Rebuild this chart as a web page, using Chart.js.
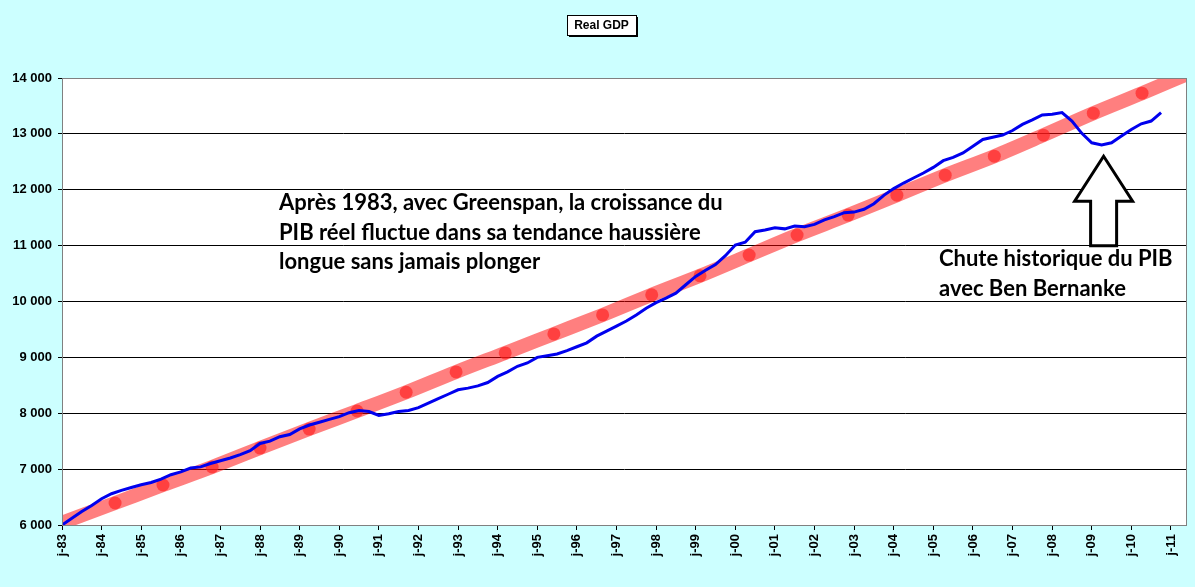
<!DOCTYPE html>
<html>
<head>
<meta charset="utf-8">
<script src="https://cdn.jsdelivr.net/npm/chart.js@4"></script>
<style>
  html, body { margin: 0; padding: 0; background: #ccffff; }
  #wrap { width: 1195px; height: 587px; }
</style>
</head>
<body>
<div id="wrap"><canvas id="gdp"></canvas></div>
<script>
// quarterly real GDP (billions, chained dollars), from 1983 Q1
const startYear = 1983;
const gdp = [
  6000, 6120, 6240, 6350,   6470, 6560, 6620, 6670,   6720, 6760, 6820, 6900,
  6950, 7020, 7040, 7100,   7150, 7200, 7260, 7330,   7460, 7500, 7580, 7620,
  7720, 7790, 7840, 7890,   7940, 8010, 8050, 8030,   7960, 7990, 8030, 8050,
  8100, 8180, 8260, 8340,   8420, 8450, 8490, 8550,   8660, 8740, 8840, 8900,
  9000, 9030, 9060, 9120,   9190, 9260, 9380, 9470,   9560, 9650, 9760, 9880,
  9980, 10060, 10150, 10300, 10450, 10560, 10660, 10820, 11010, 11060, 11250, 11280,
  11320, 11300, 11350, 11340, 11380, 11460, 11520, 11590, 11600, 11650, 11750, 11900,
  12020, 12120, 12210, 12300, 12400, 12520, 12580, 12660, 12780, 12900, 12940, 12980,
  13060, 13170, 13250, 13340, 13350, 13380, 13230, 13010, 12840, 12800, 12840, 12960,
  13080, 13180, 13230, 13380
];

// trend dots (year, value)
const dotYears = [1984.34, 1985.55, 1986.79, 1988.0, 1989.24, 1990.45, 1991.69, 1992.95,
  1994.19, 1995.42, 1996.65, 1997.89, 1999.11, 2000.35, 2001.56, 2002.85, 2004.08,
  2005.3, 2006.54, 2007.78, 2009.04, 2010.27];
const dotValues = [6394, 6716, 7038, 7377, 7717, 8040, 8376, 8740, 9080, 9420, 9760,
  10120, 10460, 10830, 11190, 11546, 11903, 12261, 12601, 12977, 13370, 13728];
// band ends
const bandStart = { x: 1983, y: 6040 };
const bandEnd = { x: 2011.38, y: 14060 };

const yTicks = [6000, 7000, 8000, 9000, 10000, 11000, 12000, 13000, 14000];
const xYears = [];
for (let y = 1983; y <= 2011; y++) xYears.push(y);

const textLeft = ["Après 1983, avec Greenspan, la croissance du",
  "PIB réel fluctue dans sa tendance haussière",
  "longue sans jamais plonger"];
const textRight = ["Chute historique du PIB", "avec Ben Bernanke"];
const arrowAt = { x: 2009.3, top: 12600, bottom: 11000 };

const gdpPoints = gdp.map((v, i) => ({ x: startYear + i / 4, y: v }));
const dotPoints = dotYears.map((x, i) => ({ x: x, y: dotValues[i] }));
const bandPoints = [bandStart, ...dotPoints, bandEnd];

const fmt = v => String(v).replace(/\B(?=(\d{3})+(?!\d))/g, " ");

const decor = {
  id: "decor",
  beforeDraw(chart) {
    const { ctx, chartArea: a } = chart;
    ctx.save();
    ctx.fillStyle = "#ccffff";
    ctx.fillRect(0, 0, chart.width, chart.height);
    ctx.fillStyle = "#ffffff";
    ctx.fillRect(a.left, a.top, a.right - a.left, a.bottom - a.top);
    ctx.restore();
  },
  afterDraw(chart) {
    const { ctx, chartArea: a, scales } = chart;
    ctx.save();
    // plot border
    ctx.strokeStyle = "#808080";
    ctx.lineWidth = 1;
    ctx.strokeRect(a.left + 0.5, a.top + 0.5, a.right - a.left, a.bottom - a.top);

    // title box
    ctx.font = "bold 12px Arial";
    const bx = 567, by = 15, bw = 69, bh = 20;
    ctx.fillStyle = "#000";
    ctx.fillRect(bx + 2, by + 2, bw, bh);
    ctx.fillStyle = "#fff";
    ctx.fillRect(bx, by, bw, bh);
    ctx.strokeStyle = "#000";
    ctx.strokeRect(bx + 0.5, by + 0.5, bw, bh);
    ctx.fillStyle = "#000";
    ctx.textAlign = "center";
    ctx.textBaseline = "middle";
    ctx.fillText("Real GDP", bx + bw / 2, by + bh / 2 + 1);

    // annotations
    ctx.font = "bold 22px Lato";
    ctx.textAlign = "left";
    textLeft.forEach((t, i) => ctx.fillText(t, 279, 203 + i * 29.5));
    textRight.forEach((t, i) => ctx.fillText(t, 939, 259 + i * 30));

    // arrow
    const cx = scales.x.getPixelForValue(arrowAt.x);
    const yt = scales.y.getPixelForValue(arrowAt.top);
    const yb = scales.y.getPixelForValue(arrowAt.bottom);
    const hw = 29, sw = 13, head = 45;
    ctx.beginPath();
    ctx.moveTo(cx, yt);
    ctx.lineTo(cx + hw, yt + head);
    ctx.lineTo(cx + sw, yt + head);
    ctx.lineTo(cx + sw, yb);
    ctx.lineTo(cx - sw, yb);
    ctx.lineTo(cx - sw, yt + head);
    ctx.lineTo(cx - hw, yt + head);
    ctx.closePath();
    ctx.fillStyle = "#fff";
    ctx.fill();
    ctx.lineWidth = 3;
    ctx.strokeStyle = "#000";
    ctx.stroke();
    ctx.restore();
  }
};

new Chart(document.getElementById("gdp"), {
  type: "line",
  data: {
    datasets: [
      { data: gdpPoints, borderColor: "#0000ee", borderWidth: 3, pointRadius: 0, tension: 0, order: 0 },
      { data: bandPoints, borderColor: "rgba(255,0,0,0.5)", borderWidth: 14, pointRadius: 0,
        cubicInterpolationMode: "monotone", order: 2 },
      { data: dotPoints, showLine: false, pointRadius: 6.5, pointBorderWidth: 0,
        pointBackgroundColor: "rgba(255,30,30,0.65)", order: 1 }
    ]
  },
  options: {
    responsive: true,
    maintainAspectRatio: false,
    animation: false,
    events: [],
    layout: { padding: { left: 0, top: 78, right: 9, bottom: 0 } },
    plugins: { legend: { display: false }, tooltip: { enabled: false } },
    scales: {
      x: {
        type: "linear",
        min: 1983,
        max: 2011.38,
        afterBuildTicks: s => { s.ticks = xYears.map(v => ({ value: v })); },
        afterFit: s => { s.height = 62; },
        ticks: {
          autoSkip: false,
          minRotation: 90,
          maxRotation: 90,
          padding: 4,
          color: "#000",
          font: { family: "Arial", size: 13, weight: "bold" },
          callback: v => "j-" + String(v).slice(2)
        },
        grid: { display: true, drawOnChartArea: false, drawTicks: true, tickLength: 5, color: "#000" },
        border: { color: "#000" }
      },
      y: {
        min: 6000,
        max: 14000,
        afterBuildTicks: s => { s.ticks = yTicks.map(v => ({ value: v })); },
        afterFit: s => { s.width = 62; },
        ticks: {
          color: "#000",
          padding: 6,
          font: { family: "Arial", size: 13, weight: "bold" },
          callback: v => fmt(v)
        },
        grid: { color: "#000", tickLength: 4 },
        border: { color: "#000" }
      }
    }
  },
  plugins: [decor]
});
</script>
</body>
</html>
